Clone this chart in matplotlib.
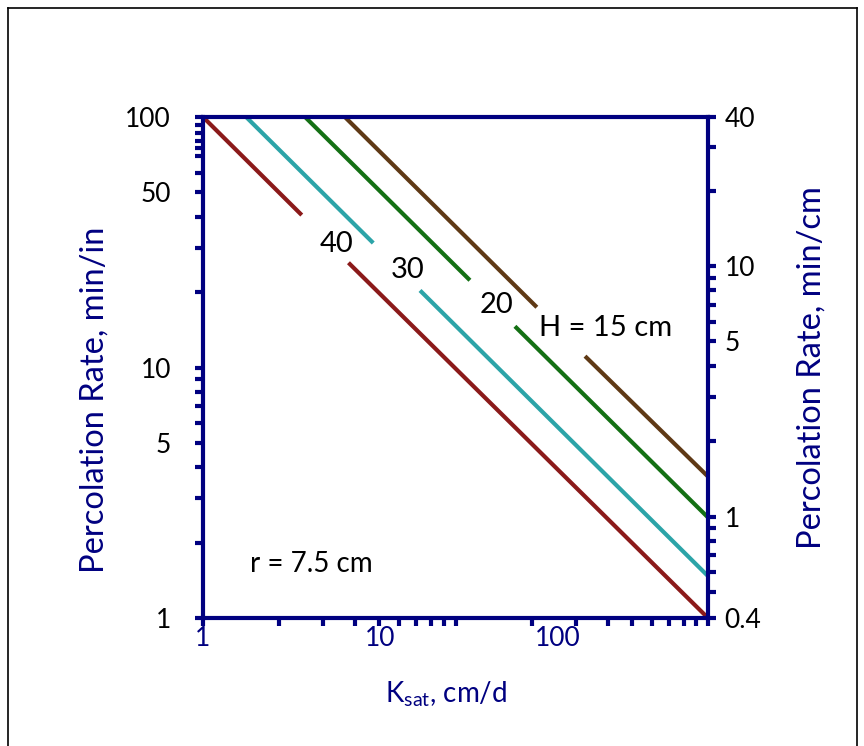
import matplotlib
matplotlib.use("Agg")
import matplotlib.pyplot as plt
from matplotlib.lines import Line2D
from matplotlib.ticker import FixedLocator, NullFormatter, NullLocator

plt.rcParams["font.family"] = ["Lato", "DejaVu Sans"]
plt.rcParams["mathtext.fontset"] = "custom"
plt.rcParams["mathtext.rm"] = "Lato"
plt.rcParams["mathtext.it"] = "Lato:italic"

NAVY = "#000080"
CM_PER_IN = 2.54
FS = 19

# percolation rate (min/in) vs Ksat (cm/d), one line per ponded head H (cm)
heads_cm = [40, 30, 20, 15]
line_colors = ["#8b1a1a", "#2ca4a8", "#147014", "#5f3915"]
ksat_start = [1.0, 1.75, 3.76, 6.3]
perc_start = [100.0, 100.0, 100.0, 100.0]
ksat_end = [700.0, 700.0, 700.0, 700.0]
perc_end = [1.0, 1.47, 2.52, 3.67]
# each line is broken where its label sits
gap_ksat_lo = [3.6, 9.1, 31.9, 76.0]
gap_perc_lo = [40.6, 31.4, 22.3, 17.4]
gap_ksat_hi = [6.6, 16.7, 57.2, 142.0]
gap_perc_hi = [26.2, 20.3, 14.6, 11.1]

# in-line labels
label_text = ["40", "30", "20", "H = 15 cm"]
label_ksat = [5.69, 14.3, 45.3, 186.0]
label_perc = [31.1, 24.5, 17.8, 14.4]

# axis ranges and ticks
x_range = (1.0, 700.0)
y_range = (1.0, 100.0)
x_tick_vals = [1, 10, 100]
x_tick_text = ["1", "10", "100"]
# tick marks on the bottom axis follow their own 1..100 log scale
xmark_range = (1.0, 100.0)
xmark_major = [1, 10, 100]
xmark_minor = [2, 3, 4, 5, 6, 7, 8, 9, 20, 30, 40, 50, 60, 70, 80, 90]
left_tick_vals = [1, 5, 10, 50, 100]
left_tick_text = ["1", "5", "10", "50", "100"]
left_minor = [2, 3, 4, 6, 7, 8, 9, 20, 30, 40, 60, 70, 75, 80, 86, 93]
right_tick_text = ["0.4", "1", "5", "10", "40"]
right_minor = [0.5, 0.6, 0.7, 0.8, 0.9, 2, 3, 4, 6, 7, 8, 9, 20, 30]


fig = plt.figure(figsize=(8.64, 7.46), dpi=100)
ax = fig.add_axes([203 / 864, 1 - 618 / 746, 505 / 864, 501 / 746])
ax.set_xscale("log")
ax.set_yscale("log")
ax.set_xlim(*x_range)
ax.set_ylim(*y_range)

for i, c in enumerate(line_colors):
    ax.plot([ksat_start[i], gap_ksat_lo[i]], [perc_start[i], gap_perc_lo[i]],
            color=c, linewidth=3.0, solid_capstyle="butt", zorder=2)
    ax.plot([gap_ksat_hi[i], ksat_end[i]], [gap_perc_hi[i], perc_end[i]],
            color=c, linewidth=3.0, solid_capstyle="butt", zorder=2)

for s, k, p in zip(label_text, label_ksat, label_perc):
    ax.text(k, p, s, ha="center", va="center", fontsize=21, color="black", zorder=4)

ax.text(1.84, 1.64, "r = 7.5 cm", ha="left", va="center", fontsize=20, color="black")

for side in ["left", "right", "top", "bottom"]:
    ax.spines[side].set_color(NAVY)
    ax.spines[side].set_linewidth(3.0)

# bottom labels without marks
ax.xaxis.set_major_locator(FixedLocator(x_tick_vals))
ax.set_xticklabels(x_tick_text)
ax.xaxis.set_minor_locator(NullLocator())
ax.tick_params(axis="x", which="major", length=0, pad=6, labelsize=FS, labelcolor=NAVY)

# left axis
ax.yaxis.set_ticks_position("left")
ax.yaxis.set_major_locator(FixedLocator(left_tick_vals))
ax.set_yticklabels(left_tick_text)
ax.yaxis.set_minor_locator(FixedLocator(left_minor))
ax.yaxis.set_minor_formatter(NullFormatter())
ax.tick_params(axis="y", which="both", direction="out", length=6, width=3, color=NAVY,
               labelsize=FS, labelcolor="black", pad=17)

# bottom tick marks
axt = ax.twiny()
axt.set_xscale("log")
axt.set_xlim(*xmark_range)
axt.xaxis.set_ticks_position("bottom")
axt.xaxis.set_major_locator(FixedLocator(xmark_major))
axt.xaxis.set_minor_locator(FixedLocator(xmark_minor))
axt.xaxis.set_major_formatter(NullFormatter())
axt.xaxis.set_minor_formatter(NullFormatter())
axt.tick_params(axis="x", which="both", direction="out", length=6, width=3, color=NAVY,
                labelbottom=False, labeltop=False)
for side in axt.spines:
    axt.spines[side].set_visible(False)

# right axis in min/cm
axr = ax.twinx()
axr.set_yscale("log")
lo, hi = y_range[0] / CM_PER_IN, y_range[1] / CM_PER_IN
axr.set_ylim(lo, hi)
axr.yaxis.set_major_locator(FixedLocator([lo, 1, 5, 10, hi]))
axr.set_yticklabels(right_tick_text)
axr.yaxis.set_minor_locator(FixedLocator(right_minor))
axr.yaxis.set_minor_formatter(NullFormatter())
axr.tick_params(axis="y", which="both", direction="out", length=6, width=3, color=NAVY,
                labelsize=FS, labelcolor="black", pad=6)
for side in axr.spines:
    axr.spines[side].set_visible(False)

fig.text(95 / 864, 1 - 400 / 746, "Percolation Rate, min/in", rotation=90, ha="center",
         va="center", fontsize=23.5, color=NAVY)
fig.text(812 / 864, 1 - 368 / 746, "Percolation Rate, min/cm", rotation=90, ha="center",
         va="center", fontsize=23.5, color=NAVY)
fig.text(446 / 864, 1 - 694 / 746, r"K$_{\mathrm{sat}}$, cm/d", ha="center", va="center",
         fontsize=20, color=NAVY)

# outer frame
fig.add_artist(Line2D([8 / 864, 8 / 864], [0, 1 - 8 / 746], transform=fig.transFigure,
                      color="black", linewidth=1.2))
fig.add_artist(Line2D([8 / 864, 857 / 864], [1 - 8 / 746, 1 - 8 / 746], transform=fig.transFigure,
                      color="black", linewidth=1.2))
fig.add_artist(Line2D([857 / 864, 857 / 864], [0, 1 - 8 / 746], transform=fig.transFigure,
                      color="black", linewidth=1.2))

fig.savefig("out.png", dpi=100, facecolor="white")
